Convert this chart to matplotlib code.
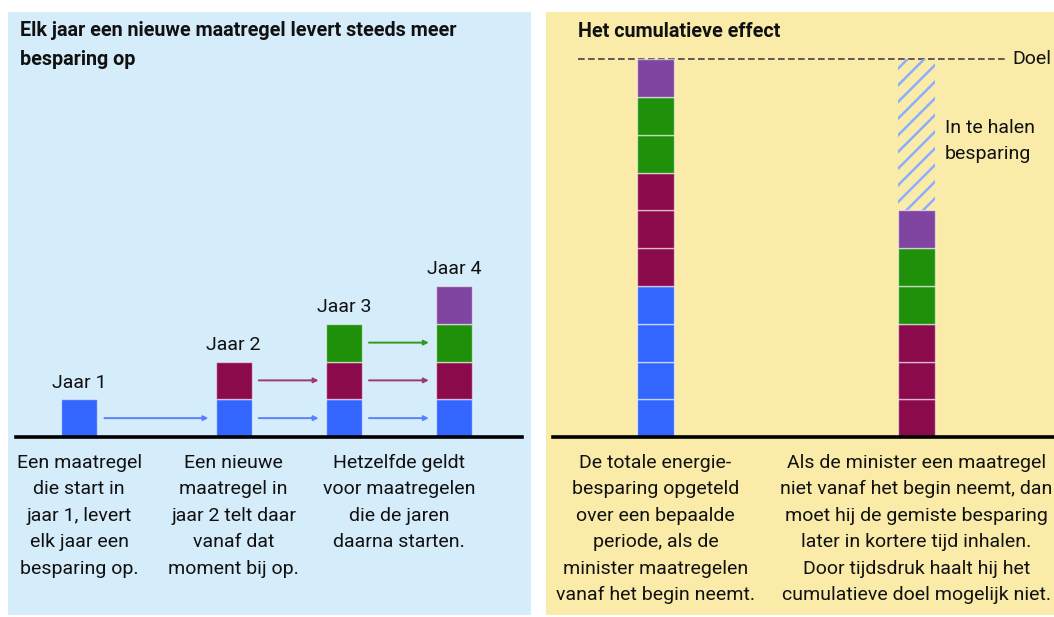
import matplotlib.pyplot as plt

plt.rcParams['font.family'] = ['Roboto', 'DejaVu Sans']
plt.rcParams['hatch.linewidth'] = 1.8

# data
jaren = ['Jaar 1', 'Jaar 2', 'Jaar 3', 'Jaar 4']
jaar_pos = [0.6, 2, 3, 4]
# blokken per maatregel (laag) per jaar
laag_blauw = [1, 1, 1, 1]
laag_rood = [0, 1, 1, 1]
laag_groen = [0, 0, 1, 1]
laag_paars = [0, 0, 0, 1]

cum_pos = [1, 2]
cum_blauw = [4, 0]
cum_rood = [3, 3]
cum_groen = [2, 2]
cum_paars = [1, 1]
cum_inhalen = [0, 4]

teksten_links = [
    'Een maatregel\ndie start in\njaar 1, levert\nelk jaar een\nbesparing op.',
    'Een nieuwe\nmaatregel in\njaar 2 telt daar\nvanaf dat\nmoment bij op.',
    'Hetzelfde geldt\nvoor maatregelen\ndie de jaren\ndaarna starten.',
]
tekst_pos_links = [0.6, 2, 3.5]
teksten_rechts = [
    'De totale energie-\nbesparing opgeteld\nover een bepaalde\nperiode, als de\nminister maatregelen\nvanaf het begin neemt.',
    'Als de minister een maatregel\nniet vanaf het begin neemt, dan\nmoet hij de gemiste besparing\nlater in kortere tijd inhalen.\nDoor tijdsdruk haalt hij het\ncumulatieve doel mogelijk niet.',
]

kleuren = ['#3366ff', '#8a0a4b', '#1f900a', '#8045a0']
pijl_kleuren = ['#5a80ff', '#9c3a6c', '#2e9a20']
hatch_kleur = '#8caeff'
bg_links = '#d5ecfa'
bg_rechts = '#faeca8'

W, H = 1054, 617
fig = plt.figure(figsize=(W / 100, H / 100), dpi=100)
fig.patch.set_facecolor('white')


def px_axes(x0, y0, x1, y1, bg):
    ax = fig.add_axes([x0 / W, 1 - y1 / H, (x1 - x0) / W, (y1 - y0) / H])
    ax.set_facecolor(bg)
    ax.set_xticks([])
    ax.set_yticks([])
    for s in ax.spines.values():
        s.set_visible(False)
    return ax


ylim = (-4.715, 11.258)
breedte_l = 0.327
rand = dict(edgecolor=(1, 1, 1, 0.55), linewidth=1)
fs = 14
ls = 1.61

# ---- linker paneel
ax1 = px_axes(8, 12, 531, 615, bg_links)
ax1.set_xlim(-0.047, 4.699)
ax1.set_ylim(*ylim)

lagen = [laag_blauw, laag_rood, laag_groen, laag_paars]
hoogte = [0] * len(jaren)
for k, laag in enumerate(lagen):
    for i, h in enumerate(laag):
        if h:
            ax1.bar(jaar_pos[i], h, bottom=hoogte[i], width=breedte_l,
                    color=kleuren[k], **rand, zorder=3)
    hoogte = [a + b for a, b in zip(hoogte, laag)]

for i, lab in enumerate(jaren):
    ax1.text(jaar_pos[i], hoogte[i] + 0.44, lab, ha='center', va='center',
             fontsize=fs, color='#111111')

# pijlen
gap = 0.065
for k, laag in enumerate(lagen[:3]):
    for i in range(len(jaren) - 1):
        if laag[i] and laag[i + 1]:
            y = k + 0.5
            ax1.annotate('', xy=(jaar_pos[i + 1] - breedte_l / 2 - gap, y),
                         xytext=(jaar_pos[i] + breedte_l / 2 + gap, y),
                         arrowprops=dict(arrowstyle='-|>', color=pijl_kleuren[k],
                                         lw=1.4, mutation_scale=7,
                                         shrinkA=0, shrinkB=0), zorder=2)

ax1.axhline(0, xmin=0.0153, xmax=0.983, color='black', lw=2.6, zorder=4)
for x, t in zip(tekst_pos_links, teksten_links):
    ax1.text(x, -0.44, t, ha='center', va='top', fontsize=fs,
             linespacing=ls, color='#111111')
ax1.text(0.023, 0.945, 'Elk jaar een nieuwe maatregel levert steeds meer\nbesparing op',
         transform=ax1.transAxes, ha='left', va='center', fontsize=14.2,
         fontweight='bold', linespacing=1.68, color='#111111')

# ---- rechter paneel
ax2 = px_axes(546, 12, 1054, 615, bg_rechts)
ax2.set_xlim(0.5805, 2.527)
ax2.set_ylim(*ylim)

breedte_r = 0.1418
doel = cum_blauw[0] + cum_rood[0] + cum_groen[0] + cum_paars[0]
for i, x in enumerate(cum_pos):
    onder = 0
    for k, reeks in enumerate([cum_blauw, cum_rood, cum_groen, cum_paars]):
        for _ in range(reeks[i]):
            ax2.bar(x, 1, bottom=onder, width=breedte_r, color=kleuren[k],
                    **rand, zorder=3)
            onder += 1
    for _ in range(cum_inhalen[i]):
        ax2.bar(x, 1, bottom=onder, width=breedte_r, facecolor='none',
                edgecolor=hatch_kleur, linewidth=0, hatch='//', zorder=3)
        onder += 1

ax2.hlines(doel, 0.703, 2.35, colors='#444444', linestyles=(0, (4, 2)),
           lw=1.2, zorder=2)
ax2.text(2.366, doel, 'Doel', ha='left', va='center', fontsize=fs, color='#111111')
ax2.text(2.109, 7.84, 'In te halen\nbesparing', ha='left', va='center',
         fontsize=fs, linespacing=ls, color='#111111')
ax2.axhline(0, xmin=0.0138, xmax=1, color='black', lw=2.6, zorder=4)
for x, t in zip(cum_pos, teksten_rechts):
    ax2.text(x, -0.44, t, ha='center', va='top', fontsize=fs,
             linespacing=ls, color='#111111', clip_on=True)
ax2.text(0.063, 0.967, 'Het cumulatieve effect', transform=ax2.transAxes,
         ha='left', va='center', fontsize=14.2, fontweight='bold', color='#111111')

fig.savefig('out.png', dpi=100)
